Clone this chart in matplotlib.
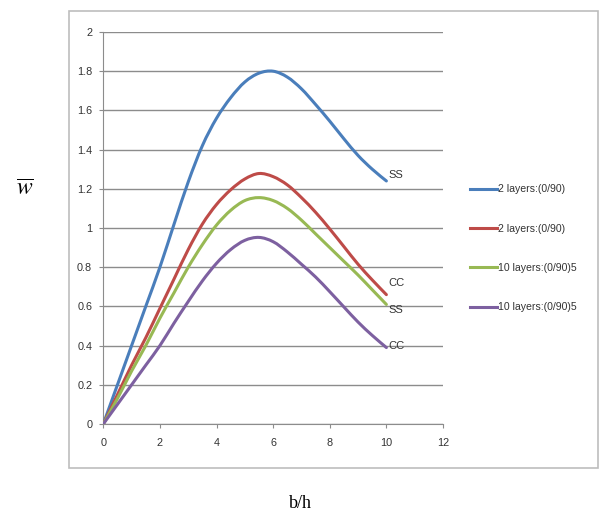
import matplotlib
matplotlib.use("Agg")
import matplotlib.pyplot as plt
from matplotlib.patches import Rectangle, PathPatch
from matplotlib.path import Path
from matplotlib.lines import Line2D

# ---- data ----
b_h = [0, 0.5, 1, 1.5, 2, 2.5, 3, 3.5, 4, 4.5, 5, 5.5, 6, 6.5, 7, 7.5, 8, 8.5, 9, 9.5, 10]
w_2l_ss = [0, 0.20, 0.40, 0.60, 0.80, 1.02, 1.235, 1.42, 1.56, 1.665, 1.745, 1.79, 1.80, 1.77,
           1.71, 1.63, 1.545, 1.455, 1.37, 1.30, 1.24]
w_2l_cc = [0, 0.15, 0.30, 0.44, 0.59, 0.74, 0.89, 1.02, 1.12, 1.195, 1.25, 1.278, 1.262, 1.22,
           1.155, 1.08, 0.995, 0.905, 0.815, 0.735, 0.66]
w_10l_ss = [0, 0.13, 0.27, 0.40, 0.54, 0.67, 0.80, 0.915, 1.015, 1.09, 1.14, 1.155, 1.14, 1.10,
            1.04, 0.97, 0.90, 0.83, 0.76, 0.685, 0.61]
w_10l_cc = [0, 0.10, 0.20, 0.30, 0.40, 0.515, 0.625, 0.73, 0.82, 0.89, 0.937, 0.952, 0.93, 0.878,
            0.815, 0.75, 0.675, 0.597, 0.52, 0.452, 0.39]

series_labels = ["2 layers:(0/90)", "2 layers:(0/90)", "10 layers:(0/90)5", "10 layers:(0/90)5"]
end_labels = ["SS", "CC", "SS", "CC"]
colors = ["#4A7EBB", "#BE4B48", "#98B954", "#7D60A0"]
x_ticks = [0, 2, 4, 6, 8, 10, 12]
y_ticks = [0, 0.2, 0.4, 0.6, 0.8, 1, 1.2, 1.4, 1.6, 1.8, 2]
y_tick_labels = ["0", "0.2", "0.4", "0.6", "0.8", "1", "1.2", "1.4", "1.6", "1.8", "2"]


def smooth_path(xs, ys):
    """Excel-style smoothed line: cubic Bezier segments through every data point."""
    n = len(xs)
    verts = [(xs[0], ys[0])]
    codes = [Path.MOVETO]
    for i in range(n - 1):
        x0, y0 = (xs[i - 1], ys[i - 1]) if i > 0 else (xs[i], ys[i])
        x1, y1 = xs[i], ys[i]
        x2, y2 = xs[i + 1], ys[i + 1]
        x3, y3 = (xs[i + 2], ys[i + 2]) if i + 2 < n else (xs[i + 1], ys[i + 1])
        c1 = (x1 + (x2 - x0) / 6.0, y1 + (y2 - y0) / 6.0)
        c2 = (x2 - (x3 - x1) / 6.0, y2 - (y3 - y1) / 6.0)
        verts += [c1, c2, (x2, y2)]
        codes += [Path.CURVE4] * 3
    return Path(verts, codes)


W, H = 600, 519
fig = plt.figure(figsize=(W / 100, H / 100), dpi=100)
fig.patch.set_facecolor("white")
plt.rcParams["mathtext.fontset"] = "stix"

# chart area border
fig.patches.append(Rectangle((69 / W, 1 - 468 / H), (598 - 69) / W, (468 - 11) / H,
                             transform=fig.transFigure, fill=False,
                             edgecolor="#BDBDBD", linewidth=1.2))

ax = fig.add_axes([103.3 / W, 1 - 424 / H, (443 - 103.3) / W, (424 - 32) / H])
ax.set_facecolor("white")

series = [w_2l_ss, w_2l_cc, w_10l_ss, w_10l_cc]
handles = []
for ys, c, lab in zip(series, colors, series_labels):
    patch = PathPatch(smooth_path(b_h, ys), facecolor="none", edgecolor=c, lw=2.2,
                      capstyle="round", joinstyle="round", zorder=3)
    ax.add_patch(patch)
    handles.append(Line2D([], [], color=c, lw=2.2, label=lab))

ax.set_xlim(0, 12)
ax.set_ylim(0, 2)
ax.set_xticks(x_ticks)
ax.set_yticks(y_ticks)
ax.set_yticklabels(y_tick_labels)
ax.grid(axis="y", color="#8C8C8C", lw=1.0, zorder=0)
ax.set_axisbelow(True)
for s in ["top", "right"]:
    ax.spines[s].set_visible(False)
ax.spines["left"].set_color("#8C8C8C")
ax.spines["bottom"].set_color("#8C8C8C")
ax.tick_params(axis="both", direction="out", length=3, color="#8C8C8C",
               labelsize=7.8, labelcolor="#333333")
ax.tick_params(axis="x", pad=7)
ax.tick_params(axis="y", pad=5)
for lbl in ax.get_xticklabels() + ax.get_yticklabels():
    lbl.set_fontfamily("Liberation Sans")

# end-of-curve annotations
end_y_offsets = [0.03, 0.06, -0.03, 0.01]
for ys, t, dy in zip(series, end_labels, end_y_offsets):
    ax.text(b_h[-1] + 0.08, ys[-1] + dy, t, fontsize=8, color="#333333",
            family="Liberation Sans", va="center", ha="left")

leg = fig.legend(handles=handles, loc="upper left", bbox_to_anchor=(466 / W, 1 - 180 / H),
                 frameon=False, fontsize=7.6, handlelength=2.5, handletextpad=0.1,
                 labelspacing=2.78, borderaxespad=0)
for t in leg.get_texts():
    t.set_color("#333333")
    t.set_fontfamily("Liberation Sans")

fig.text(25 / W, 1 - 188 / H, r"$\overline{w}$", fontsize=17, ha="center", va="center")
fig.text(300 / W, 1 - 503 / H, "b/h", fontsize=13, family="Liberation Serif",
         ha="center", va="center")

fig.savefig("out.png", dpi=100, facecolor="white")
